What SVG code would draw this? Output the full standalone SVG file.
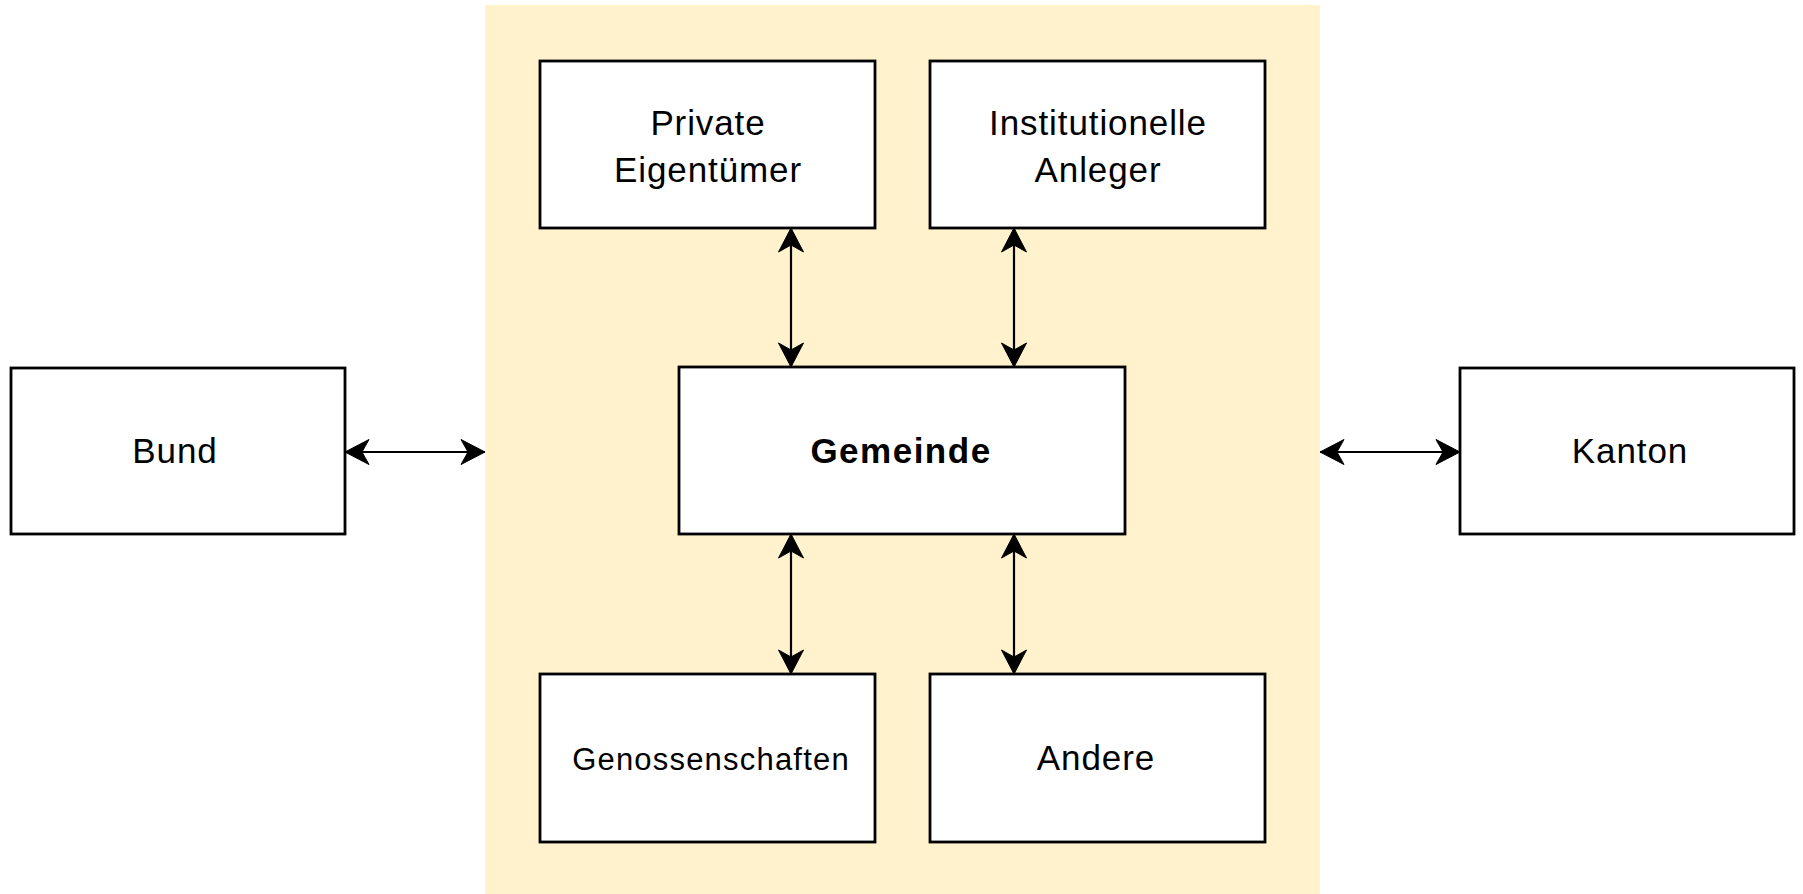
<svg xmlns="http://www.w3.org/2000/svg" width="1803" height="894" viewBox="0 0 1803 894">
<style>
.bg{fill:#fff2cc;stroke:none}
.box{fill:#ffffff;stroke:#000000;stroke-width:2.8}
.lbl{font-family:"Liberation Sans",Arial,sans-serif;font-size:35px;letter-spacing:0.9px;fill:#000;text-anchor:middle}
.bold{font-weight:bold;letter-spacing:1.5px}
.small{font-size:31px;letter-spacing:1.2px}
.conn{stroke:#000;stroke-width:2.2;fill:none;marker-start:url(#arr);marker-end:url(#arr)}
</style>
<defs>
<marker id="arr" viewBox="-25 -13 26 26" refX="0" refY="0" markerWidth="26" markerHeight="26" markerUnits="userSpaceOnUse" orient="auto-start-reverse">
<path d="M0,0 L-24,-12.5 L-17,0 L-24,12.5 Z" fill="#000" stroke="#000" stroke-width="1" stroke-linejoin="miter"/>
</marker>
</defs>
<rect id="container" class="bg" x="485" y="5" width="835" height="889"/>
<g id="connectors">
<line class="conn" x1="345" y1="452" x2="485" y2="452"/>
<line class="conn" x1="1320" y1="452" x2="1460" y2="452"/>
<line class="conn" x1="791" y1="228" x2="791" y2="367"/>
<line class="conn" x1="1014" y1="228" x2="1014" y2="367"/>
<line class="conn" x1="791" y1="534" x2="791" y2="674"/>
<line class="conn" x1="1014" y1="534" x2="1014" y2="674"/>
</g>
<g id="private">
<rect class="box" x="540" y="61" width="335" height="167"/>
<text class="lbl" x="708" y="135">Private</text>
<text class="lbl" x="708" y="182">Eigentümer</text>
</g>
<g id="institutionelle">
<rect class="box" x="930" y="61" width="335" height="167"/>
<text class="lbl" x="1098" y="135">Institutionelle</text>
<text class="lbl" x="1098" y="182">Anleger</text>
</g>
<g id="bund">
<rect class="box" x="11" y="368" width="334" height="166"/>
<text class="lbl" x="175" y="463">Bund</text>
</g>
<g id="gemeinde">
<rect class="box" x="679" y="367" width="446" height="167"/>
<text class="lbl bold" x="901" y="463">Gemeinde</text>
</g>
<g id="kanton">
<rect class="box" x="1460" y="368" width="334" height="166"/>
<text class="lbl" x="1630" y="463">Kanton</text>
</g>
<g id="genossenschaften">
<rect class="box" x="540" y="674" width="335" height="168"/>
<text class="lbl small" x="711" y="770">Genossenschaften</text>
</g>
<g id="andere">
<rect class="box" x="930" y="674" width="335" height="168"/>
<text class="lbl" x="1096" y="770">Andere</text>
</g>
</svg>
